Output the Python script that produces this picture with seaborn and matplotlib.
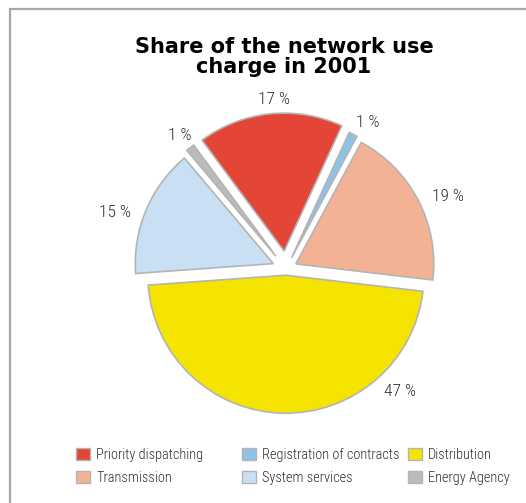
import matplotlib
matplotlib.use("Agg")
import matplotlib.pyplot as plt
from matplotlib.patches import Patch
from matplotlib.lines import Line2D
import seaborn as sns

# Slices, clockwise from the top
categories = ["Priority dispatching", "Registration of contracts", "Transmission",
              "Distribution", "System services", "Energy Agency"]
shares = [17, 1, 19, 47, 15, 1]
colors = ["#E34537", "#8DC3E8", "#F4B295", "#F5E400", "#C9DFF4", "#BBBBBB"]
label_texts = [f"{v} %" for v in shares]

# Legend columns (each column holds two entries)
legend_cols = [["Priority dispatching", "Transmission"],
               ["Registration of contracts", "System services"],
               ["Distribution", "Energy Agency"]]

sns.set_theme(style="white")
plt.rcParams["font.family"] = ["Roboto Condensed", "DejaVu Sans"]
plt.rcParams["font.weight"] = "light"

W, H = 526, 503
fig = plt.figure(figsize=(W / 100, H / 100), dpi=100)
fig.patch.set_facecolor("white")

# Outer frame: only the top and left edges fall inside the canvas
frame_kw = dict(transform=fig.transFigure, color="#A8A8A8", lw=1.6)
fig.add_artist(Line2D([10 / W, 10 / W], [0, 1 - 9 / H], **frame_kw))
fig.add_artist(Line2D([10 / W, 1], [1 - 9 / H, 1 - 9 / H], **frame_kw))

# Pie axes: centre at (286, 269) px, radius 138 px
cx, cy, r = 286, 269, 138
half = 200
ax = fig.add_axes([(cx - half) / W, (H - cy - half) / H, 2 * half / W, 2 * half / H])

explode = [0.13, 0.09, 0.08, 0.045, 0.1, 0.12]
ax.pie(shares, colors=colors, explode=explode, startangle=126.5,
       counterclock=False, radius=1,
       wedgeprops=dict(edgecolor="#B4B4B4", linewidth=1.2))
lim = half / r
ax.set_xlim(-lim, lim)
ax.set_ylim(-lim, lim)
ax.set_aspect("equal")
ax.axis("off")

# Percentage labels, placed around the pie in radius units
label_xy = [(-0.087, 1.225), (0.594, 1.058), (1.174, 0.522),
            (0.826, -0.891), (-1.239, 0.413), (-0.768, 0.971)]
for txt, (lx, ly) in zip(label_texts, label_xy):
    ax.text(lx, ly, txt, ha="center", va="center", fontsize=12.5,
            color="#2E2E2E", fontweight="light")

fig.text(284 / W, 1 - 57 / H, "Share of the network use\ncharge in 2001",
         ha="center", va="center", fontsize=15, fontweight="bold",
         family=["DejaVu Sans"], linespacing=0.95, color="black")

color_of = dict(zip(categories, colors))
col_x = [76, 242, 408]
for x0, names in zip(col_x, legend_cols):
    handles = [Patch(facecolor=color_of[n], edgecolor="#B4B4B4", linewidth=1.0) for n in names]
    leg = fig.legend(handles, names, loc="upper left", bbox_to_anchor=(x0 / W, 1 - 448 / H),
                     frameon=False, fontsize=10.4, handlelength=0.95, handleheight=0.95,
                     handletextpad=0.45, labelspacing=0.58, borderpad=0, borderaxespad=0)
    for t in leg.get_texts():
        t.set_color("#2E2E2E")
        t.set_fontweight("light")

fig.savefig("out.png", dpi=100, facecolor="white")
